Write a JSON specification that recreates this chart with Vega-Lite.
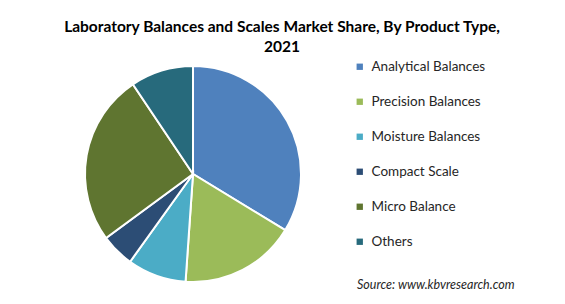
{
  "$schema": "https://vega.github.io/schema/vega-lite/v6.json",
  "width": 565,
  "height": 304,
  "autosize": {"type": "fit", "contains": "padding"},
  "padding": {"top": 19, "left": 0, "right": 0, "bottom": 0},
  "background": "white",
  "config": {"view": {"stroke": null}},
  "title": {
    "text": ["Laboratory Balances and Scales Market Share, By Product Type,", "2021"],
    "font": "Lato",
    "fontSize": 15.5,
    "fontWeight": "bold",
    "color": "#000000",
    "anchor": "start",
    "frame": "group",
    "align": "center",
    "dx": 282,
    "offset": 6,
    "lineHeight": 20
  },
  "layer": [
    {
      "data": {
        "values": [
          {"type": "Analytical Balances", "share": 33.7, "idx": 1},
          {"type": "Precision Balances", "share": 17.4, "idx": 2},
          {"type": "Moisture Balances", "share": 8.8, "idx": 3},
          {"type": "Compact Scale", "share": 5.0, "idx": 4},
          {"type": "Micro Balance", "share": 25.7, "idx": 5},
          {"type": "Others", "share": 9.4, "idx": 6}
        ]
      },
      "mark": {"type": "arc", "outerRadius": 108, "stroke": "white", "strokeWidth": 2},
      "encoding": {
        "theta": {"field": "share", "type": "quantitative", "stack": true},
        "order": {"field": "idx", "type": "quantitative"},
        "x": {"value": 193},
        "y": {"value": 113},
        "color": {
          "field": "type",
          "type": "nominal",
          "sort": ["Analytical Balances", "Precision Balances", "Moisture Balances", "Compact Scale", "Micro Balance", "Others"],
          "scale": {
            "domain": ["Analytical Balances", "Precision Balances", "Moisture Balances", "Compact Scale", "Micro Balance", "Others"],
            "range": ["#4F81BD", "#9BBB59", "#4BACC6", "#2C4D75", "#5F7530", "#276A7C"]
          },
          "legend": {
            "orient": "none",
            "legendX": 353,
            "legendY": -1,
            "title": null,
            "symbolType": "square",
            "symbolSize": 40,
            "symbolStrokeWidth": 0,
            "labelFont": "Lato",
            "labelFontSize": 13.5,
            "labelColor": "#262626",
            "labelOffset": 5,
            "rowPadding": 20,
            "labelLimit": 200
          }
        }
      }
    },
    {
      "data": {"values": [{"label": "Source:  www.kbvresearch.com"}]},
      "mark": {"type": "text", "font": "Lato", "fontSize": 12.5, "fontStyle": "italic", "color": "#262626", "align": "left", "baseline": "middle"},
      "encoding": {
        "text": {"field": "label", "type": "nominal"},
        "x": {"value": 357},
        "y": {"value": 224}
      }
    }
  ]
}
